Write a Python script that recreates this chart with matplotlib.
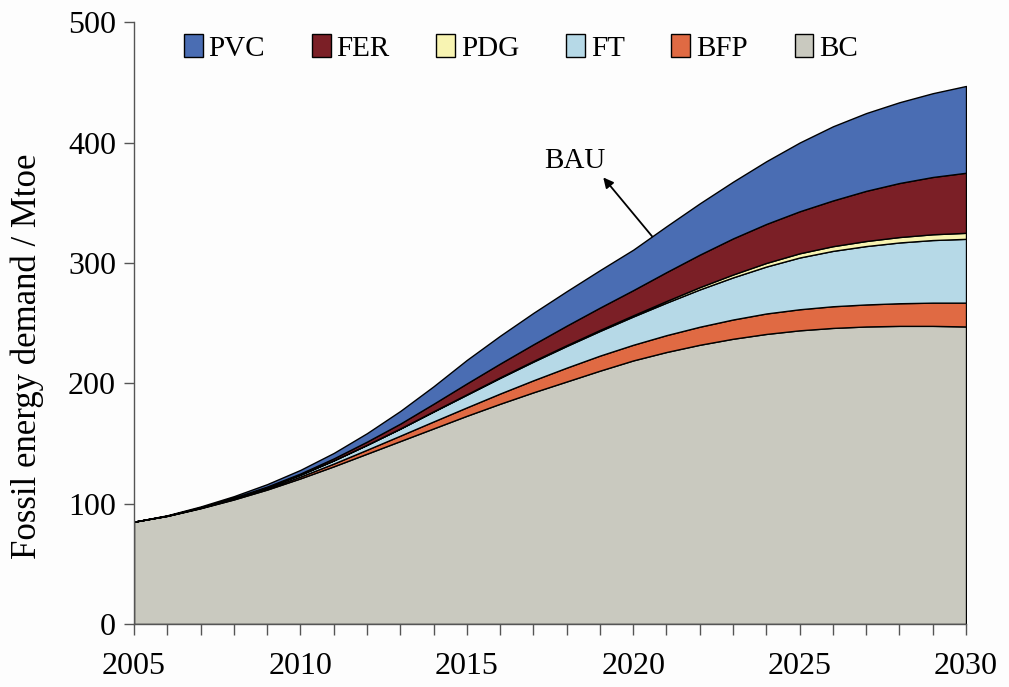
import numpy as np
import matplotlib
matplotlib.use('Agg')
import matplotlib.pyplot as plt
from matplotlib.patches import Patch

plt.rcParams['font.family'] = ['Liberation Serif', 'DejaVu Serif']

# Data (Mtoe)
years = list(range(2005, 2031))
bc  = [85, 89.8, 96.2, 103.5, 111.7, 121, 131, 141.5, 152, 162.5, 173,
       183, 192.5, 201.5, 210.5, 219, 226, 232, 237, 241, 244,
       246, 247.2, 247.7, 247.7, 247.2]
bfp = [0, 0.1, 0.3, 0.6, 1.0, 1.5, 2.3, 3.3, 4.5, 5.8, 7.0,
       8.5, 10, 11.5, 12.5, 13, 14, 15, 16, 17, 17.5,
       18, 18.3, 18.8, 19.3, 19.8]
ft  = [0, 0.1, 0.3, 0.6, 1.0, 1.6, 2.6, 4.0, 5.8, 8.2, 10.5,
       13, 15.5, 18, 20.5, 23.5, 27, 31, 35, 39, 43,
       46, 48.5, 50.5, 52, 53]
pdg = [0, 0, 0, 0, 0, 0.05, 0.1, 0.15, 0.2, 0.3, 0.4,
       0.5, 0.6, 0.7, 0.85, 1.0, 1.4, 1.9, 2.4, 3.0, 3.5,
       3.9, 4.2, 4.5, 4.8, 5.0]
fer = [0, 0.05, 0.15, 0.3, 0.5, 0.9, 1.6, 2.6, 4, 6.2, 9,
       11.4, 13.8, 16.2, 18.55, 20.9, 24, 27, 30, 32.4, 34.9,
       38, 41.7, 44.9, 47.6, 49.9]
pvc = [0, 0.3, 0.7, 1.2, 2.0, 3.0, 4.5, 7, 10.5, 14.5, 19.5,
       23.1, 26.1, 28.6, 31.1, 33.6, 38.1, 42.6, 47.1, 52.1, 57.1,
       61.6, 64.6, 67.1, 69.6, 72.1]

names = ['PVC', 'FER', 'PDG', 'FT', 'BFP', 'BC']
colors = {'PVC': '#4a6db3', 'FER': '#7b1f26', 'PDG': '#f8f4b2',
          'FT': '#b6d9e7', 'BFP': '#e06a43', 'BC': '#c9c9bf'}

fig = plt.figure(figsize=(10.09, 6.87), dpi=100)
fig.patch.set_facecolor('#fdfdfd')
ax = fig.add_axes([0.1328, 0.0917, 0.8246, 0.876])
ax.set_facecolor('#fdfdfd')

# stacked from bottom: BC, BFP, FT, PDG, FER, PVC
stack = [bc, bfp, ft, pdg, fer, pvc]
order = ['BC', 'BFP', 'FT', 'PDG', 'FER', 'PVC']
ax.stackplot(years, *stack, colors=[colors[n] for n in order],
             edgecolor='black', linewidth=1.0)

ax.set_xlim(2005, 2030)
ax.set_ylim(0, 500)
ax.set_yticks(range(0, 501, 100))
ax.set_xticks(years)
ax.set_xticklabels([str(y) if y % 5 == 0 else '' for y in years])

for s in ['top', 'right']:
    ax.spines[s].set_visible(False)
for s in ['left', 'bottom']:
    ax.spines[s].set_color('#555555')
    ax.spines[s].set_linewidth(1.0)
ax.tick_params(axis='x', direction='out', length=8, width=1, color='#555555',
               labelsize=23, pad=12)
ax.tick_params(axis='y', direction='out', length=7, width=1, color='#555555',
               labelsize=23, pad=6)

ax.set_ylabel('Fossil energy demand / Mtoe', fontsize=25)
ax.yaxis.set_label_coords(-0.108, 0.445)

handles = [Patch(facecolor=colors[n], edgecolor='black', linewidth=1.0, label=n)
           for n in names]
ax.legend(handles=handles, ncol=6, loc='center', bbox_to_anchor=(0.465, 0.957),
          frameon=False, fontsize=21, handlelength=0.65, handleheight=0.8,
          handletextpad=0.2, columnspacing=1.6)

ax.text(2018.25, 385, 'BAU', ha='center', va='center', fontsize=21)
ax.annotate('', xy=(2019.1, 371), xytext=(2020.57, 322),
            arrowprops=dict(arrowstyle='-|>', color='black', lw=1.3,
                            mutation_scale=15, shrinkA=0, shrinkB=0))

fig.savefig('out.png', dpi=100, facecolor=fig.get_facecolor())
